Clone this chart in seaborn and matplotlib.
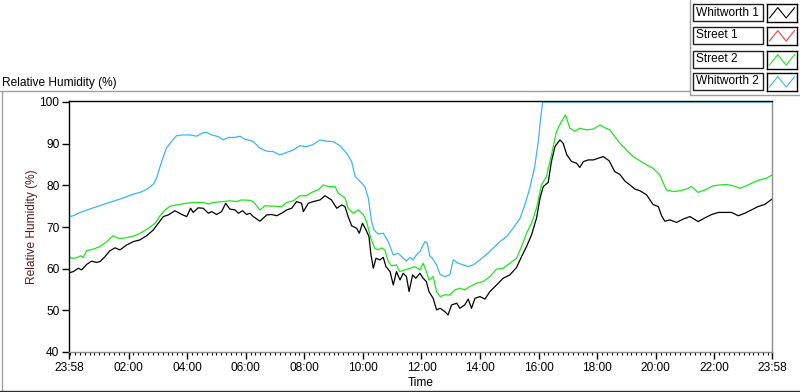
import matplotlib
matplotlib.use("Agg")
import matplotlib.pyplot as plt
import seaborn as sns
import pandas as pd
from matplotlib.lines import Line2D
from matplotlib.patches import Rectangle

# ---------------- data ----------------
series_names = ["Whitworth 1", "Street 1", "Street 2", "Whitworth 2"]
series_colors = ["#000000", "#ff3c3c", "#1ee61e", "#3cb6f2"]

# hours elapsed since 23:58
w1_hours = [0.0, 0.15, 0.32, 0.43, 0.60, 0.77, 0.94, 1.06, 1.23, 1.40, 1.57, 1.74, 1.97, 2.20, 2.42,
            2.65, 2.88, 3.05, 3.22, 3.39, 3.62, 3.85, 4.02, 4.15, 4.24, 4.41, 4.58, 4.76, 4.87, 5.04,
            5.21, 5.35, 5.49, 5.67, 5.78, 5.93, 6.06, 6.18,
            6.29, 6.52, 6.75, 6.92, 7.09, 7.26, 7.43, 7.60, 7.77, 7.94, 8.00, 8.17, 8.34, 8.57, 8.74,
            8.85, 8.96, 9.14, 9.31, 9.42, 9.53, 9.65, 9.82, 9.91, 10.02, 10.14, 10.24, 10.31, 10.39,
            10.48, 10.61, 10.73, 10.82, 10.96, 11.07, 11.18, 11.30, 11.41, 11.52, 11.61, 11.73, 11.84,
            11.98, 12.09, 12.20, 12.29,
            12.43, 12.55, 12.67, 12.83, 12.94, 13.06, 13.24, 13.34, 13.51, 13.63, 13.74, 13.86, 14.03,
            14.20, 14.37, 14.60, 14.82, 15.05, 15.28, 15.45, 15.62, 15.79, 15.96, 16.08, 16.19, 16.36,
            16.47, 16.59, 16.76, 16.87, 16.99, 17.16, 17.33, 17.44, 17.56, 17.73, 17.90, 18.07, 18.24,
            18.44,
            18.63, 18.81, 18.98, 19.15, 19.32, 19.49, 19.72, 19.94, 20.12, 20.23, 20.34, 20.52, 20.74,
            20.97, 21.20, 21.48, 21.71, 21.94, 22.17, 22.39, 22.62, 22.85, 23.07, 23.30, 23.52, 23.75,
            24.0]
w1_rh = [59.0, 59.3, 60.1, 59.7, 61.0, 61.8, 61.5, 61.7, 62.9, 64.3, 65.0, 64.5, 65.7, 66.5, 66.9,
         67.9, 69.3, 70.9, 72.5, 72.9, 73.9, 73.0, 72.5, 74.5, 73.5, 74.6, 74.5, 73.3, 73.7, 73.0,
         73.7, 75.7, 74.3, 74.1, 73.3, 73.9, 73.0, 73.3,
         72.5, 71.4, 72.9, 73.0, 72.7, 73.3, 74.1, 74.5, 76.1, 75.7, 73.7, 75.7, 76.1, 76.5, 77.5,
         77.0, 76.5, 74.5, 75.3, 74.9, 72.5, 70.3, 69.7, 68.5, 70.9, 69.3, 67.7, 63.3, 60.1,
         62.5, 62.1, 62.7, 60.5, 59.3, 56.1, 59.3, 57.3, 58.9, 58.1, 54.5, 58.5, 57.7,
         58.9, 57.7, 56.9, 54.5,
         52.9, 50.1, 50.5, 49.7, 48.9, 51.3, 51.7, 50.5, 51.3, 52.7, 50.5, 52.9, 53.3,
         52.7, 54.5, 56.1, 57.7, 58.5, 60.3, 62.9, 65.3, 68.1, 72.1, 76.9, 79.7, 80.7,
         85.7, 89.3, 90.9, 90.1, 87.4, 85.7, 85.3, 84.3, 85.7, 86.1, 86.1, 86.5, 86.9,
         85.9,
         83.3, 82.6, 81.0, 80.1, 79.1, 78.7, 77.7, 75.4, 74.9, 72.7, 71.4, 71.7, 71.1,
         71.9, 72.5, 71.3, 72.2, 73.0, 73.5, 73.5, 73.5, 72.7, 73.3, 74.1, 74.9, 75.4,
         76.7]

s1_hours = []
s1_rh = []

s2_hours = [0.0, 0.09, 0.26, 0.40, 0.49, 0.60, 0.83, 1.06, 1.29, 1.51, 1.68, 1.85, 2.14, 2.31, 2.48,
            2.71, 2.94, 3.11, 3.28, 3.45, 3.67, 4.02, 4.24, 4.58, 4.76, 4.93, 5.27, 5.49, 5.72, 5.89,
            6.18,
            6.29, 6.52, 6.69, 6.97, 7.26, 7.43, 7.66, 7.88, 8.11, 8.28, 8.51, 8.68, 8.85, 9.08, 9.19,
            9.42, 9.53, 9.70, 9.88, 10.05, 10.16, 10.30, 10.44, 10.56, 10.67, 10.78, 10.90, 11.01,
            11.18, 11.29, 11.47, 11.64, 11.81, 11.98, 12.09, 12.20, 12.29,
            12.43, 12.55, 12.67, 12.83, 13.00, 13.17, 13.34, 13.51, 13.68, 13.91, 14.14, 14.37, 14.60,
            14.82, 15.05, 15.28, 15.45, 15.62, 15.79, 15.96, 16.13, 16.30, 16.47, 16.64, 16.81, 16.95,
            17.10, 17.27, 17.44, 17.67, 17.90, 18.13, 18.30, 18.47,
            18.58, 18.81, 19.03, 19.26, 19.49, 19.72, 19.94, 20.17, 20.29, 20.40, 20.63, 20.85, 21.08,
            21.25, 21.48, 21.71, 22.00, 22.22, 22.45, 22.68, 22.90, 23.13, 23.36, 23.58, 23.81, 24.0]
s2_rh = [62.9, 62.5, 62.6, 63.1, 62.7, 64.3, 64.7, 65.3, 66.5, 67.9, 67.3, 67.3, 67.7, 68.1, 68.7,
         69.7, 70.9, 72.7, 74.1, 75.0, 75.3, 75.7, 75.9, 75.9, 75.5, 75.9, 76.1, 76.3, 76.1, 76.5,
         76.4,
         76.1, 74.1, 75.1, 75.0, 74.9, 75.9, 76.3, 77.5, 77.5, 78.3, 78.9, 80.1, 79.7, 79.7, 78.1,
         77.0, 74.5, 73.3, 74.1, 73.0, 71.3, 67.3, 64.9, 64.5, 65.0, 64.5, 61.7, 60.7,
         60.9, 59.3, 59.7, 60.1, 60.5, 59.7, 61.3, 59.3, 57.3,
         58.1, 54.5, 53.3, 53.7, 53.7, 54.9, 55.3, 54.9, 55.7, 56.5, 56.9, 58.1, 59.9,
         60.1, 61.3, 62.5, 65.3, 68.5, 70.9, 74.5, 80.1, 82.1, 87.3, 92.9, 95.3, 96.9,
         93.7, 93.0, 93.7, 93.3, 93.5, 94.5, 93.8, 93.3,
         92.2, 90.1, 88.5, 86.9, 85.9, 84.9, 84.1, 82.5, 80.5, 78.9, 78.5, 78.7, 79.1,
         79.7, 78.3, 78.9, 79.9, 80.1, 80.2, 79.9, 79.3, 79.9, 80.7, 81.3, 81.7, 82.5]

w2_hours = [0.0, 0.15, 0.38, 0.83, 1.29, 1.74, 2.20, 2.42, 2.65, 2.88, 2.99, 3.11, 3.22, 3.33, 3.50,
            3.67, 3.90, 4.13, 4.36, 4.58, 4.70, 4.87, 5.10, 5.27, 5.44, 5.67, 5.84, 6.01, 6.18,
            6.29, 6.52, 6.75, 6.97, 7.20, 7.43, 7.66, 7.88, 8.11, 8.34, 8.57, 8.80, 9.02, 9.25, 9.48,
            9.65, 9.77, 9.93, 10.10, 10.22, 10.33, 10.41, 10.56, 10.73, 10.90, 11.07, 11.24, 11.41,
            11.52, 11.64, 11.75, 11.87, 11.98, 12.15, 12.23, 12.32,
            12.38, 12.55, 12.67, 12.83, 13.00, 13.12, 13.29, 13.46, 13.63, 13.80, 14.03, 14.25, 14.48,
            14.71, 14.94, 15.17, 15.40, 15.56, 15.73, 15.90, 16.02, 16.10, 16.17, 24.0]
w2_rh = [72.5, 72.7, 73.5, 74.6, 75.7, 76.7, 77.9, 78.3, 79.0, 80.3, 81.7, 84.5, 86.9, 89.0, 90.5,
         91.9, 92.1, 92.1, 91.8, 92.6, 92.7, 92.1, 91.7, 90.9, 91.5, 91.5, 91.8, 91.0, 90.8,
         90.5, 88.9, 88.2, 88.1, 87.3, 87.9, 88.5, 89.5, 89.3, 89.8, 90.9, 90.6, 90.5, 89.5, 87.7,
         85.7, 82.1, 81.0, 79.7, 76.9, 71.3, 69.3, 68.3, 68.5, 66.5, 63.3, 63.7, 62.5,
         61.8, 62.7, 62.1, 63.4, 64.1, 66.5, 66.1, 63.0,
         62.7, 60.9, 58.6, 58.1, 58.5, 62.1, 61.3, 60.9, 60.5, 60.9, 62.1, 63.4, 64.9,
         66.5, 67.7, 69.8, 72.1, 75.3, 79.3, 84.5, 90.5, 96.1, 100.0, 100.0]

y_ticks = [40, 50, 60, 70, 80, 90, 100]
x_tick_labels = ["23:58", "02:00", "04:00", "06:00", "08:00", "10:00", "12:00",
                 "14:00", "16:00", "18:00", "20:00", "22:00", "23:58"]
start_label = "23:58"

# ---------------- helpers ----------------
def clock_to_hours(lbl, start):
    h, m = map(int, lbl.split(":"))
    sh, sm = map(int, start.split(":"))
    return ((h * 60 + m) - (sh * 60 + sm)) % 1440 / 60.0

x_tick_pos = [clock_to_hours(l, start_label) for l in x_tick_labels]
x_tick_pos[-1] = 24.0
minor_pos = [clock_to_hours("00:00", start_label) + k / 6.0 for k in range(0, 144)]
minor_pos = [p for p in minor_pos if p <= 24.0]

W, H = 800, 392

def fx(px):
    return px / W

def fy(py):
    return 1 - py / H

# ---------------- figure ----------------
sns.set_theme(style="white")
plt.rcParams["font.family"] = ["Liberation Sans", "DejaVu Sans"]
FS = 8.6

fig = plt.figure(figsize=(8, 3.92), dpi=100)
fig.patch.set_facecolor("white")
# axes spans pixel rows 101..352 so that the value 100 sits one pixel below the top frame
ax = fig.add_axes([fx(69), fy(352), (772 - 69) / W, 251 / H])

frames = []
for name, hrs, vals in [("Whitworth 1", w1_hours, w1_rh), ("Street 1", s1_hours, s1_rh),
                        ("Street 2", s2_hours, s2_rh), ("Whitworth 2", w2_hours, w2_rh)]:
    if len(hrs):
        frames.append(pd.DataFrame({"hours": hrs, "rh": vals, "sensor": name}))
df = pd.concat(frames, ignore_index=True)

palette = dict(zip(series_names, series_colors))
sns.lineplot(data=df, x="hours", y="rh", hue="sensor",
             hue_order=["Whitworth 2", "Street 2", "Whitworth 1"],
             palette=palette, estimator=None, sort=False, legend=False,
             linewidth=0.9, ax=ax)

ax.set_xlim(0, 24)
ax.set_ylim(40, 100.24)
ax.set_yticks(y_ticks)
ax.set_yticklabels([str(v) for v in y_ticks], fontsize=FS)
ax.set_xticks(x_tick_pos)
ax.set_xticklabels(x_tick_labels, fontsize=FS)
ax.set_xticks(minor_pos, minor=True)
ax.tick_params(axis="both", which="major", direction="out", length=5, width=1,
               color="black", pad=2, labelcolor="black")
ax.tick_params(axis="x", which="minor", direction="out", length=2.5, width=0.8,
               color="black", bottom=True)
ax.tick_params(axis="y", which="minor", left=False)
ax.tick_params(axis="x", which="both", bottom=True)
ax.tick_params(axis="y", which="major", left=True)

for side in ["left", "top"]:
    ax.spines[side].set_color("black")
    ax.spines[side].set_linewidth(1.0)
for side in ["right", "bottom"]:
    ax.spines[side].set_color("#8c8c8c")
    ax.spines[side].set_linewidth(1.0)
ax.grid(False)

ax.set_ylabel("Relative Humidity (%)", fontsize=FS, color="#5c1a1a")
ax.yaxis.set_label_coords((38 - 69) / 703, 0.5)
ax.set_xlabel("Time", fontsize=FS, color="black")
ax.xaxis.set_label_coords(0.5, (352 - 377) / 251)

# panel title
fig.text(fx(2), fy(83), "Relative Humidity (%)", fontsize=FS, ha="left", va="center",
         color="black")

# panel frame lines
def fline(x0, y0, x1, y1, color, lw=1.0):
    fig.add_artist(Line2D([fx(x0), fx(x1)], [fy(y0), fy(y1)], color=color, lw=lw,
                          transform=fig.transFigure))

fline(0, 90.5, 689.5, 90.5, "#a0a0a0")
fline(1.5, 90.5, 1.5, 391, "#a0a0a0")
fline(0, 390.5, 800, 390.5, "#303030")
fline(689.5, 0, 689.5, 95, "#a0a0a0")
fline(689.5, 94.5, 800, 94.5, "#a0a0a0")

# legend (one row per series: name box + zigzag icon box)
row_tops = [4, 27, 51, 73]
ICON_X = [0.08, 0.36, 0.64, 0.92]
ICON_Y = [0.22, 0.80, 0.22, 0.80]
for name, color, top in zip(series_names, series_colors, row_tops):
    fig.add_artist(Rectangle((fx(693), fy(top + 17)), 70 / W, 17 / H, transform=fig.transFigure,
                             facecolor="white", edgecolor="#202020", lw=1.0))
    fig.text(fx(695.5), fy(top + 8.5), name, fontsize=FS, ha="left", va="center", color="black")
    iax = fig.add_axes([fx(767), fy(top + 18), 30 / W, 18 / H])
    iax.plot(ICON_X, ICON_Y, color=color, lw=0.8)
    iax.set_xlim(0, 1)
    iax.set_ylim(0, 1)
    iax.set_xticks([])
    iax.set_yticks([])
    for s in iax.spines.values():
        s.set_color("black")
        s.set_linewidth(1.0)
        s.set_visible(True)

fig.savefig("out.png", dpi=100, facecolor="white")
